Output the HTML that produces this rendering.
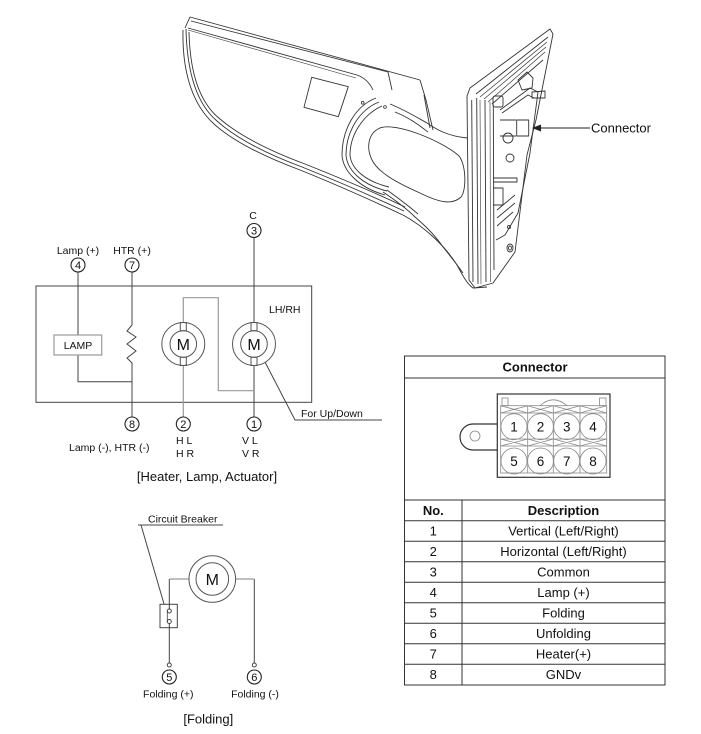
<!DOCTYPE html>
<html><head><meta charset="utf-8"><style>
html,body{margin:0;padding:0;background:#fff;}
svg{display:block;}
text{font-family:"Liberation Sans",Arial,sans-serif;fill:#111;}
</style></head><body>
<svg width="701" height="734" viewBox="0 0 701 734" xmlns="http://www.w3.org/2000/svg">
<rect width="701" height="734" fill="#fff"/>

<!-- ===== Mirror drawing ===== -->
<g fill="none" stroke="#333" stroke-width="0.9" stroke-linejoin="round">
  <!-- housing top edges -->
  <path d="M185,28 L190,17 L420,80"/>
  <path d="M191,21 L388,72"/>
  <path d="M188,28 L357,75 Q368,79 373,90"/>
  <path d="M188,30 L356,78" stroke-width="0.6"/>
  <path d="M388,72 L392,90"/>
  <!-- housing right edge -->
  <path d="M420,80 L426,100 L433,130"/>
  <path d="M424,95 L430,128"/>
  <!-- left / bottom outer edges -->
  <path d="M183,30 C182,75 194,106 214,124 C234,142 265,157 300,170 C335,184 375,202 403,215 C425,227 445,246 457,265 C463,276 467,284 473,288 L487,287"/>
  <path d="M186,29 C187,75 198,105 217,121 C237,139 267,154 302,167 C337,181 376,198 404,211"/>
  <path d="M189,32 C190,76 201,104 220,119 C240,136 270,151 305,164 C340,178 378,194 405,207"/>
  <!-- lower inner line from ring -->
  <path d="M383,192 C395,200 408,210 415,217 C428,228 437,238 443,247 C452,258 458,266 463,273"/>
  <path d="M387,190 C398,198 410,207 418,214"/>
  <!-- sticker -->
  <path d="M311.7,77.3 L348.3,86.7 L338.3,116.7 L304,107.3 Z"/>
  <!-- ring -->
  <path d="M376,98 C355,106 342,130 342,155 C343,172 360,188 385,195"/>
  <path d="M379,102 C359,110 346,132 346,155 C347,170 362,185 387,191"/>
  <path d="M382,106 C364,114 350,134 350,155 C351,168 364,181 389,187"/>
  <!-- arm top -->
  <path d="M390,104 C405,110 418,118 427,123 C437,130 448,136 467,138"/>
  <path d="M395,112 C410,118 420,126 428,132"/>
  <!-- hole -->
  <path d="M380,128 C395,122 440,140 458,155 C466,162 467,190 461,197 C453,205 440,203 420,193 C395,182 378,172 372,160 C366,148 368,133 380,128 Z"/>
  <!-- plate outline -->
  <path d="M467,96 L470,88 L550,29 L553,34 L536,120 L527,155 L515,252 L493,283 L475,288 L469,280 Z"/>
  <path d="M476,94 L548,37"/>
  <path d="M480,97 L547,42" stroke-width="0.7"/>
  <path d="M484,99 L546,47" stroke-width="0.7"/>
  <path d="M488,102 L545,52" stroke-width="0.7"/>
  <path d="M492,104 L543,60"/>
  <path d="M471.7,100 L473,282"/>
  <path d="M476.7,98 L478,284"/>
  <path d="M480,100 L481,284" stroke-width="0.6"/>
  <path d="M485,100 L486,282"/>
  <path d="M490,102 L490.5,282" stroke-width="0.6"/>
  <path d="M493.3,105 L494,270"/>
  <!-- inner mechanism -->
  <path d="M500,110 L530,88 L538,92 L530,153 L518,213 L505,235 L496,240"/>
  <path d="M502,113 L528,95 L534,98"/>
  <rect x="493" y="96" width="10" height="11" rx="2"/>
  <path d="M518,80 L527,72 L533,78 L532,88 L522,90 Z"/>
  <path d="M532,92 L545,91 L545,98 L532,98 Z"/>
  <rect x="516.7" y="120" width="12" height="16"/>
  <path d="M500,120 L516,120 M500,136 L516,136"/>
  <circle cx="508" cy="138" r="5"/>
  <circle cx="510" cy="158" r="4"/>
  <path d="M493,178 L517,178 L517,182 L493,182"/>
  <path d="M493,188 L503,188 L503,205 L493,205"/>
  <path d="M497,210 L515,195 M497,218 L515,203 M497,226 L513,212"/>
  <circle cx="509" cy="227" r="1.5"/>
  <ellipse cx="510" cy="248" rx="3" ry="4"/>
  <ellipse cx="510" cy="248" rx="1.5" ry="2"/>
</g>
<circle cx="362.7" cy="102.7" r="1.4" fill="none" stroke="#333" stroke-width="0.8"/>
<circle cx="385" cy="107" r="1.4" fill="none" stroke="#333" stroke-width="0.8"/>
<!-- connector arrow -->
<line x1="539" y1="128" x2="590" y2="128" stroke="#222" stroke-width="1"/>
<polygon points="532,128 541,124.5 541,131.5" fill="#222"/>
<text x="591" y="132.5" font-size="13">Connector</text>

<!-- ===== Circuit: Heater, Lamp, Actuator ===== -->
<g fill="none" stroke="#444" stroke-width="1">
  <rect x="36" y="286" width="275.7" height="116.3"/>
  <line x1="78" y1="272" x2="78" y2="335"/>
  <path d="M78,355 L78,381.7 L132,381.7"/>
  <line x1="132" y1="272" x2="132" y2="325"/>
  <path d="M132,325 L127,331 L136,337 L127,344 L136,351 L127,358 L132,363 L132,417"/>
  <line x1="254" y1="238" x2="254" y2="322.5"/>
  <line x1="254" y1="365.5" x2="254" y2="417"/>
  <path d="M265,362 L295,420 L382,420"/>
</g>
<g fill="none" stroke="#999" stroke-width="1.2">
  <rect x="54" y="335" width="47.7" height="20"/>
  <path d="M183.3,322.5 L183.3,297.7 L218.3,297.7 L218.3,390.7 L254,390.7"/>
  <line x1="183.3" y1="365.5" x2="183.3" y2="417"/>
</g>
<g fill="none" stroke="#555" stroke-width="1">
  <circle cx="183.3" cy="344" r="21.5"/>
  <circle cx="183.3" cy="344" r="13.3"/>
  <rect x="180.3" y="322.5" width="6" height="8.2"/>
  <rect x="180.3" y="357.3" width="6" height="8.2"/>
  <circle cx="254" cy="344" r="21.5"/>
  <circle cx="254" cy="344" r="13.3"/>
  <rect x="251" y="322.5" width="6" height="8.2"/>
  <rect x="251" y="357.3" width="6" height="8.2"/>
</g>
<text x="183.3" y="350" font-size="16" text-anchor="middle">M</text>
<text x="254" y="350" font-size="16" text-anchor="middle">M</text>
<text x="78" y="349" font-size="10.5" text-anchor="middle">LAMP</text>

<g fill="#fff" stroke="#222" stroke-width="1.1">
  <circle cx="254" cy="230.5" r="7"/>
  <circle cx="78" cy="265" r="7"/>
  <circle cx="132" cy="265" r="7"/>
  <circle cx="132" cy="424" r="7"/>
  <circle cx="183.3" cy="424" r="7"/>
  <circle cx="254" cy="424" r="7"/>
</g>
<g font-size="11" text-anchor="middle">
  <text x="254" y="234.5">3</text>
  <text x="78" y="269">4</text>
  <text x="132" y="269">7</text>
  <text x="132" y="428">8</text>
  <text x="183.3" y="428">2</text>
  <text x="254" y="428">1</text>
</g>
<g font-size="10.5">
  <text x="253" y="219" text-anchor="middle">C</text>
  <text x="78" y="254" text-anchor="middle">Lamp (+)</text>
  <text x="132" y="254" text-anchor="middle">HTR (+)</text>
  <text x="269" y="313">LH/RH</text>
  <text x="301" y="417">For Up/Down</text>
  <text x="176" y="444">H L</text>
  <text x="176" y="457">H R</text>
  <text x="242" y="444">V L</text>
  <text x="242" y="457">V R</text>
  <text x="69" y="451">Lamp (-), HTR (-)</text>
</g>
<text x="207" y="481" font-size="13" text-anchor="middle">[Heater, Lamp, Actuator]</text>

<!-- ===== Folding ===== -->
<g fill="none" stroke="#444" stroke-width="1">
  <path d="M138,525 L223,525"/>
  <path d="M141,525 L164,604"/>
  <rect x="160" y="604.3" width="17.3" height="23.4"/>
  <line x1="169.3" y1="579" x2="169.3" y2="609"/>
  <line x1="169.3" y1="623.5" x2="169.3" y2="663"/>
  <line x1="254.3" y1="579" x2="254.3" y2="663"/>
  <path d="M167.3,611 L167.3,622" stroke-width="0.8"/>
  <circle cx="169.3" cy="611" r="2"/>
  <circle cx="169.3" cy="621.5" r="2"/>
  <circle cx="169.3" cy="665" r="2"/>
  <circle cx="254.3" cy="665" r="2"/>
</g>
<g fill="none" stroke="#999" stroke-width="1.2">
  <path d="M169.3,579 L189,579"/>
  <path d="M235.6,579 L254.3,579"/>
</g>
<g fill="none" stroke="#555" stroke-width="1">
  <circle cx="212.3" cy="579" r="23.3"/>
  <circle cx="212.3" cy="579" r="16.3"/>
</g>
<text x="212.3" y="585" font-size="16" text-anchor="middle">M</text>
<g fill="#fff" stroke="#222" stroke-width="1.1">
  <circle cx="169.3" cy="677" r="7"/>
  <circle cx="254.3" cy="677" r="7"/>
</g>
<g font-size="11" text-anchor="middle">
  <text x="169.3" y="681">5</text>
  <text x="254.3" y="681">6</text>
</g>
<g font-size="10.5">
  <text x="148" y="522.5">Circuit Breaker</text>
  <text x="168.3" y="697.5" text-anchor="middle">Folding (+)</text>
  <text x="255" y="697.5" text-anchor="middle">Folding (-)</text>
</g>
<text x="208.3" y="723.5" font-size="13" text-anchor="middle">[Folding]</text>

<!-- ===== Connector table ===== -->
<g fill="none" stroke="#333" stroke-width="1">
  <rect x="404.5" y="356" width="260.5" height="329"/>
  <line x1="404.5" y1="378" x2="665" y2="378"/>
  <line x1="404.5" y1="500" x2="665" y2="500"/>
  <line x1="404.5" y1="520.7" x2="665" y2="520.7"/>
  <line x1="404.5" y1="541.2" x2="665" y2="541.2"/>
  <line x1="404.5" y1="561.7" x2="665" y2="561.7"/>
  <line x1="404.5" y1="582.2" x2="665" y2="582.2"/>
  <line x1="404.5" y1="602.7" x2="665" y2="602.7"/>
  <line x1="404.5" y1="623.2" x2="665" y2="623.2"/>
  <line x1="404.5" y1="643.7" x2="665" y2="643.7"/>
  <line x1="404.5" y1="664.2" x2="665" y2="664.2"/>
  <line x1="462" y1="500" x2="462" y2="685"/>
</g>
<text x="535" y="371.5" font-size="13" font-weight="bold" text-anchor="middle">Connector</text>
<text x="433.3" y="515" font-size="13" font-weight="bold" text-anchor="middle">No.</text>
<text x="563.5" y="515" font-size="13" font-weight="bold" text-anchor="middle">Description</text>
<g font-size="13" text-anchor="middle">
  <text x="433.3" y="535.5">1</text><text x="563.5" y="535.5">Vertical (Left/Right)</text>
  <text x="433.3" y="556">2</text><text x="563.5" y="556">Horizontal (Left/Right)</text>
  <text x="433.3" y="576.5">3</text><text x="563.5" y="576.5">Common</text>
  <text x="433.3" y="597">4</text><text x="563.5" y="597">Lamp (+)</text>
  <text x="433.3" y="617.5">5</text><text x="563.5" y="617.5">Folding</text>
  <text x="433.3" y="638">6</text><text x="563.5" y="638">Unfolding</text>
  <text x="433.3" y="658.5">7</text><text x="563.5" y="658.5">Heater(+)</text>
  <text x="433.3" y="679">8</text><text x="563.5" y="679">GNDv</text>
</g>

<g fill="none" stroke="#333" stroke-width="1.2">
  <rect x="497.3" y="394" width="112.7" height="83.3"/>
  <path d="M497.3,424 L473,424 A13,13 0 0 0 473,450 L497.3,450"/>
</g>
<g fill="none" stroke="#888" stroke-width="0.8">
  <circle cx="475" cy="436" r="5"/>
  <rect x="502" y="398" width="6" height="7.7"/>
  <rect x="599.5" y="398" width="6.5" height="7.7"/>
  <path d="M540,405.7 Q553.3,394 567,405.7"/>
  <rect x="500.7" y="405.7" width="106" height="67.3"/>
  <line x1="500.7" y1="413" x2="606.7" y2="413"/>
  <line x1="500.7" y1="439" x2="606.7" y2="439"/>
  <line x1="500.7" y1="446" x2="606.7" y2="446"/>
  <line x1="527.7" y1="405.7" x2="527.7" y2="473"/>
  <line x1="553.3" y1="405.7" x2="553.3" y2="473"/>
  <line x1="580" y1="405.7" x2="580" y2="473"/>
  <path d="M500.7,405.7 L527.7,413 M500.7,413 L527.7,405.7 M527.7,405.7 L553.3,413 M527.7,413 L553.3,405.7 M553.3,405.7 L580,413 M553.3,413 L580,405.7 M580,405.7 L606.7,413 M580,413 L606.7,405.7"/>
  <path d="M500.7,439 L527.7,446 M500.7,446 L527.7,439 M527.7,439 L553.3,446 M527.7,446 L553.3,439 M553.3,439 L580,446 M553.3,446 L580,439 M580,439 L606.7,446 M580,446 L606.7,439"/>
  <circle cx="514" cy="426.7" r="13"/>
  <circle cx="540.5" cy="426.7" r="13"/>
  <circle cx="566.7" cy="426.7" r="13"/>
  <circle cx="593" cy="426.7" r="13"/>
  <circle cx="514" cy="461" r="13"/>
  <circle cx="540.5" cy="461" r="13"/>
  <circle cx="566.7" cy="461" r="13"/>
  <circle cx="593" cy="461" r="13"/>
</g>
<g font-size="13.5" text-anchor="middle">
  <text x="514" y="431.5">1</text>
  <text x="540.5" y="431.5">2</text>
  <text x="566.7" y="431.5">3</text>
  <text x="593" y="431.5">4</text>
  <text x="514" y="466">5</text>
  <text x="540.5" y="466">6</text>
  <text x="566.7" y="466">7</text>
  <text x="593" y="466">8</text>
</g>
</svg>
</body></html>
